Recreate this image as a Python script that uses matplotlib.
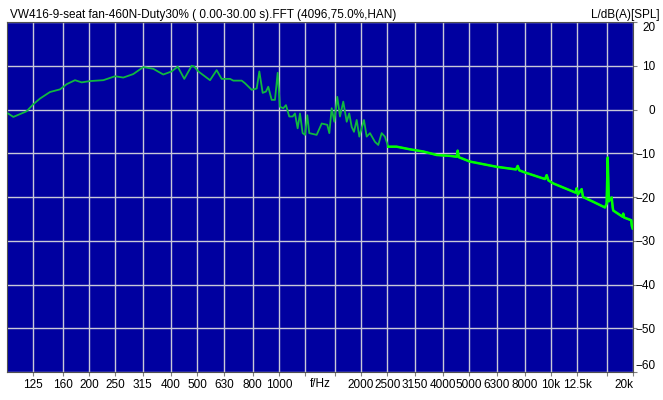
import numpy as np
import matplotlib
matplotlib.use('Agg')
import matplotlib.pyplot as plt
import matplotlib.transforms as mtransforms

plt.rcParams['font.family'] = ['Liberation Sans', 'DejaVu Sans']

title = 'VW416-9-seat fan-460N-Duty30% ( 0.00-30.00 s).FFT (4096,75.0%,HAN)'
unit = 'L/dB(A)[SPL]'

# spectrum (Hz, dB)
freq = [100.9, 105.5, 118.1, 124.9, 132.2, 143.9, 156.6, 165.8, 177.8, 188.2,
        201.9, 226, 249.5, 267.6, 291.2, 316.9, 344.9, 375.3, 403, 424,
        448.4, 477.3, 488, 504.9, 557.5, 589.7, 615.2, 660.2, 678.9, 729,
        749.6, 793.4, 827.7, 846.3, 870.6, 895.1, 912.7, 939.5, 966, 988.4,
        1007.9, 1036.5, 1060.3, 1090.1, 1122.5, 1144, 1170.5, 1193.9, 1220.9, 1245.6,
        1270, 1291.4, 1374.8, 1434.8, 1504, 1530.2, 1561.3, 1596.3, 1637, 1674.8,
        1722, 1772.9, 1811.5, 1849.5, 1885.7, 1929.3, 1972.5, 2051.9, 2099.4, 2158.7,
        2252, 2316, 2383, 2450, 2520, 2706, 3028, 3389, 3797, 4248,
        4496, 4535, 4580, 5031, 5325, 6307, 6489, 7428, 7537, 7640,
        8017, 9500, 9633, 9770, 10187, 12300, 12414, 12550, 12950, 13100,
        14290, 15778, 16000, 16145, 16300, 16697, 16850, 16927, 18300, 18415,
        18550, 19700, 19800, 19946]
level = [-0.9, -1.7, -0.4, 1.2, 2.5, 4.0, 4.6, 5.8, 6.7, 6.2,
         6.5, 6.7, 7.6, 7.3, 8.1, 9.7, 9.3, 8.0, 8.7, 9.8,
         7.0, 10.0, 9.8, 8.7, 6.7, 9.0, 7.0, 7.0, 6.6, 6.6,
         6.0, 4.5, 4.8, 8.7, 3.8, 4.1, 5.2, 2.2, 2.2, 8.4,
         0.6, 0.3, 1.0, -1.6, -1.6, -0.9, -4.3, -0.9, -5.4, -5.8,
         -1.3, -5.4, -5.8, -3.2, -3.5, -5.4, 0.3, -2.8, 2.9, -1.6,
         1.8, -2.8, -0.9, -4.0, -5.1, -2.4, -6.2, -2.4, -6.2, -5.4,
         -7.4, -8.1, -5.4, -6.2, -8.5, -8.5, -9.1, -9.6, -10.4, -10.6,
         -10.8, -9.4, -10.9, -11.9, -12.2, -13.1, -13.2, -13.7, -12.9, -13.9,
         -14.4, -15.9, -15.0, -16.2, -16.9, -19.0, -18.0, -19.4, -18.2, -20.0,
         -21.1, -22.4, -21.5, -11.0, -21.0, -20.1, -22.5, -23.1, -24.5, -23.8,
         -24.7, -25.3, -26.6, -27.2]

grid_freqs = [125, 160, 200, 250, 315, 400, 500, 630, 800, 1000, 1250, 1600,
              2000, 2500, 3150, 4000, 5000, 6300, 8000, 10000, 12500, 16000, 20000]
grid_labels = ['125', '160', '200', '250', '315', '400', '500', '630', '800', '1000', '', '',
               '2000', '2500', '3150', '4000', '5000', '6300', '8000', '10k', '12.5k', '', '20k']
y_ticks = [20, 10, 0, -10, -20, -30, -40, -50, -60]

freq = np.array(freq)
level = np.array(level)

fig = plt.figure(figsize=(6.63, 4.0), dpi=100)
ax = fig.add_axes([7/663, 28/400, 626/663, 350/400])
ax.set_facecolor('#0000a0')
ax.set_xscale('log')
ax.set_xlim(100, 20000)
ax.set_ylim(-60, 20)

for f in grid_freqs:
    ax.axvline(f, color='#c8c8d8', lw=1, zorder=1)
for v in y_ticks:
    ax.axhline(v, color='#c8c8d8', lw=1, zorder=1)

ax.plot(freq, level, color='#10b840', lw=1.3, zorder=3)
hi = freq >= 2500
ax.plot(freq[hi], level[hi], color='#00ff00', lw=1.8, zorder=4)

ax.set_xticks(grid_freqs)
ax.set_xticklabels(grid_labels)
ax.xaxis.set_minor_locator(matplotlib.ticker.NullLocator())
ax.tick_params(axis='x', length=3, width=0.8, color='#808080', labelsize=8.5, pad=2)
ax.get_xticklabels()[-1].set_horizontalalignment('right')

ax.yaxis.tick_right()
ax.set_yticks(y_ticks)
ax.tick_params(axis='y', length=3, width=0.8, color='#808080', labelsize=8.5, pad=13)
for lab in ax.get_yticklabels():
    lab.set_horizontalalignment('right')
ylabs = ax.get_yticklabels()
ylabs[0].set_verticalalignment('top')
ylabs[-1].set_verticalalignment('bottom')

trans = mtransforms.blended_transform_factory(ax.transData, ax.transAxes)
ax.text(1414, -0.017, 'f/Hz', transform=trans, ha='center', va='top', fontsize=8.5)

for s in ax.spines.values():
    s.set_color('#505050')
    s.set_linewidth(0.8)

fig.text(10/663, 1 - 18/400, title, ha='left', va='baseline', fontsize=8.5)
fig.text(660/663, 1 - 18/400, unit, ha='right', va='baseline', fontsize=8.5)

fig.savefig('out.png', dpi=100)
